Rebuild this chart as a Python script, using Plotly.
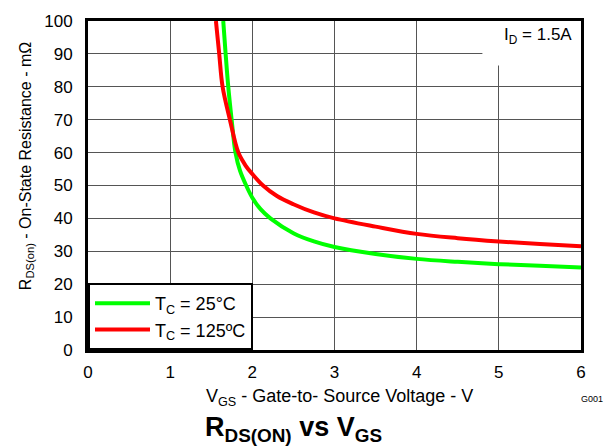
import plotly.graph_objects as go

# Data
vgs_25 = [1.646, 1.675, 1.707, 1.748, 1.795, 1.85, 1.925, 2.0, 2.1, 2.22, 2.5, 2.75, 3.0, 3.5, 4.0, 4.5, 5.0, 5.5, 6.0]
rds_25 = [100, 90, 80, 70, 60, 54.5, 50, 46.3, 42.8, 40, 35.5, 33, 31.3, 29.2, 27.7, 26.8, 26.1, 25.6, 25.1]

vgs_125 = [1.557, 1.597, 1.638, 1.727, 1.83, 1.92, 2.0, 2.13, 2.3, 2.5, 2.75, 3.0, 3.5, 4.0, 4.5, 5.0, 5.5, 6.0]
rds_125 = [100, 90, 80, 70, 60, 56, 53.5, 50, 46.8, 44.3, 41.8, 40, 37.5, 35.3, 34.0, 33.0, 32.2, 31.5]

series_names = ["T<sub>C</sub> = 25°C", "T<sub>C</sub> = 125ºC"]
x_ticks = [0, 1, 2, 3, 4, 5, 6]
y_ticks = [0, 10, 20, 30, 40, 50, 60, 70, 80, 90, 100]

FONT = "Liberation Sans, Arial, sans-serif"

fig = go.Figure()
fig.add_trace(go.Scatter(x=vgs_25, y=rds_25, mode="lines", name=series_names[0],
                         line=dict(color="#00ff00", width=4, shape="spline", smoothing=1.0)))
fig.add_trace(go.Scatter(x=vgs_125, y=rds_125, mode="lines", name=series_names[1],
                         line=dict(color="#ff0000", width=4, shape="spline", smoothing=1.0)))

fig.update_layout(
    width=606, height=446,
    margin=dict(l=88, r=25, t=15, b=96),
    paper_bgcolor="white", plot_bgcolor="white",
    font=dict(family=FONT, size=16, color="black"),
    showlegend=True,
    legend=dict(x=0, y=0, xanchor="left", yanchor="bottom",
                bgcolor="white", bordercolor="black", borderwidth=2,
                font=dict(size=18), itemwidth=55, tracegroupgap=0),
)
fig.update_xaxes(range=[0, 6], tickvals=x_ticks, showgrid=True, gridcolor="#555555", gridwidth=1,
                 showline=True, linecolor="black", linewidth=3, mirror=True, zeroline=False,
                 ticks="", ticklabelstandoff=5, tickfont=dict(size=17))
fig.update_yaxes(range=[0, 100], tickvals=y_ticks, showgrid=True, gridcolor="#555555", gridwidth=1,
                 showline=True, linecolor="black", linewidth=3, mirror=True, zeroline=False,
                 ticks="", ticklabelstandoff=9, tickfont=dict(size=17))

# white box behind the I_D label
fig.add_shape(type="rect", xref="x", yref="y", x0=4.8, x1=6, y0=86.5, y1=100,
              fillcolor="white", line=dict(width=0), layer="between")

fig.add_annotation(x=5.92, y=95.5, xref="x", yref="y", text="I<sub>D</sub> = 1.5A",
                   showarrow=False, xanchor="right", yanchor="middle", font=dict(size=17))

fig.add_annotation(x=0.51, y=-0.145, xref="paper", yref="paper",
                   text="V<sub>GS</sub> - Gate-to- Source Voltage - V",
                   showarrow=False, xanchor="center", yanchor="middle", font=dict(size=18))
fig.add_annotation(x=-0.125, y=0.56, xref="paper", yref="paper",
                   text="R<sub>DS(on)</sub> - On-State Resistance - mΩ", textangle=-90,
                   showarrow=False, xanchor="center", yanchor="middle", font=dict(size=16))
fig.add_annotation(x=1.048, y=-0.148, xref="paper", yref="paper", text="G001",
                   showarrow=False, xanchor="right", yanchor="middle", font=dict(size=9))
fig.add_annotation(x=0.416, y=-0.24, xref="paper", yref="paper",
                   text="<b>R<sub>DS(ON)</sub> vs V<sub>GS</sub></b>",
                   showarrow=False, xanchor="center", yanchor="middle", font=dict(size=27))

fig.write_html("out.html", config={"displayModeBar": False},
               post_script="document.body.style.margin='0';document.body.style.overflow='hidden';")
